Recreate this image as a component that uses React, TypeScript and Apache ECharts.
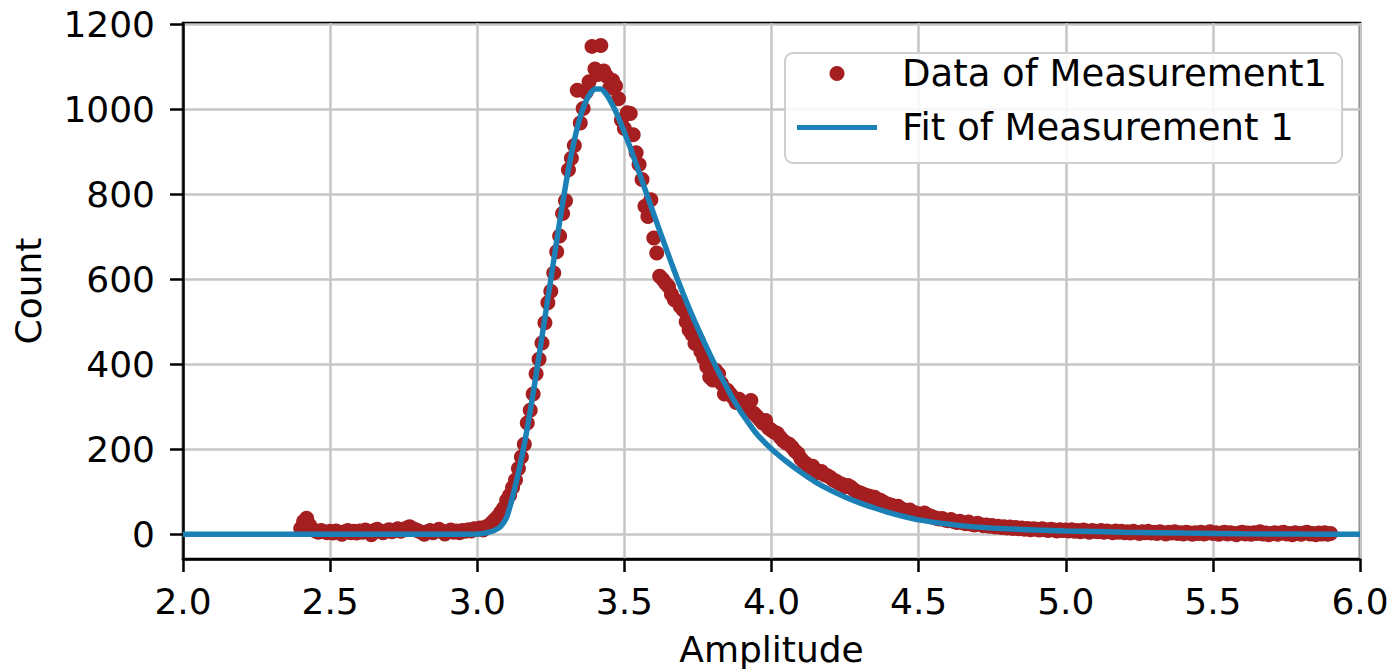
import React, { useEffect, useRef } from "react";
import * as echarts from "echarts";

const FONT = "DejaVu Sans";

// histogram bins: first bin centre and bin width
const binStart = 2.4;
const binWidth = 0.01;

// measured counts, bin by bin (2.40 ... 5.90)
const countsBaseline = [
  14, 30, 38, 22, 12, 8, 5, 9, 6, 4,
  7, 3, 8, 5, 0, 6, 9, 4, 7, 3,
  8, 5, 10, 6, -1, 9, 12, 7, 4, 8,
  11, 6, 9, 13, 7, 10, 15, 18, 14, 11,
  8, 5, 0, 6, 9, 4, 7, 12, 8, 1,
  6, 10, 5, 8, 4, 9, 7, 11, 8, 13,
];
const countsRise = [
  12, 15, 10, 18, 20, 28, 35, 42, 52, 62,
  80, 92, 110, 128, 155, 182, 212, 262, 292, 330,
  378, 412, 450, 498, 545, 572, 615, 665, 702, 755,
  785, 858, 885, 915, 1045, 968, 1002, 1040, 1065, 1148,
  1095, 1082, 1150, 1090, 1078, 1050, 1068, 1055, 1025, 975,
];
const countsFall = [
  955, 992, 990, 940, 898, 870, 835, 772, 748, 787,
  697, 662, 607, 600, 591, 583, 565, 552, 548, 536,
  528, 500, 481, 470, 449, 457, 430, 415, 395, 370,
  363, 386, 378, 355, 330, 339, 330, 322, 310, 318,
  305, 295, 300, 315, 285, 278, 270, 262, 268, 250,
];
const countsTail = [
  245, 240, 237, 228, 220, 215, 212, 205, 196, 190,
  178, 170, 165, 158, 160, 150, 145, 148, 140, 138,
  134, 128, 125, 120, 118, 112, 115, 111, 105, 100,
  98, 95, 92, 90, 88, 87, 82, 80, 76, 72,
  70, 68, 65, 66, 60, 58, 55, 57, 52, 50,
  48, 46, 50, 45, 43, 40, 38, 36, 37, 34,
];
const countsLate = [
  32, 35, 30, 28, 31, 27, 25, 29, 24, 22,
  26, 23, 20, 22, 19, 21, 17, 19, 16, 18,
  15, 17, 14, 16, 13, 15, 12, 14, 11, 13,
  12, 10, 13, 11, 9, 12, 10, 8, 11, 9,
];
const countsFar = [
  10, 8, 11, 7, 9, 6, 10, 8, 5, 9,
  7, 6, 9, 5, 8, 6, 4, 8, 5, 7,
  4, 6, 3, 7, 5, 2, 6, 4, 7, 3,
  5, 2, 6, 4, 1, 5, 3, 6, 2, 4,
  1, 5, 3, 0, 4, 2, 5, 1, 3, 6,
  2, 4, 0, 3, 5, 1, 4, 2, -1, 3,
  5, 1, 3, 0, 4, 2, 6, 1, 3, -1,
  2, 4, 0, 3, 5, 1, 2, -1, 4, 2,
  0, 3, 5, 1, 2, -1, 3, 1, 4, 0,
  2,
];

// fitted curve
const fitAmplitude = [
  2.0, 2.5, 2.9, 3.0, 3.02, 3.04, 3.06, 3.08, 3.1, 3.12, 3.14, 3.16, 3.18,
  3.2, 3.22, 3.24, 3.26, 3.28, 3.3, 3.32, 3.34, 3.36, 3.38, 3.4, 3.42,
  3.44, 3.46, 3.48, 3.5, 3.52, 3.54, 3.56, 3.58, 3.6, 3.62, 3.64, 3.66,
  3.68, 3.7, 3.72, 3.74, 3.76, 3.78, 3.8, 3.82, 3.84, 3.86, 3.88, 3.9,
  3.95, 4.0, 4.05, 4.1, 4.15, 4.2, 4.25, 4.3, 4.35, 4.4, 4.45, 4.5,
  4.6, 4.7, 4.8, 4.9, 5.0, 5.2, 5.4, 5.6, 5.8, 6.0,
];
const fitCount = [
  0, 0, 0, 1, 2, 5, 10, 19, 40, 88, 146, 212, 290,
  375, 465, 555, 645, 735, 820, 895, 957, 1003, 1033, 1048, 1048,
  1034, 1010, 980, 946, 910, 871, 832, 792, 753, 714, 676, 638,
  601, 566, 532, 500, 469, 439, 410, 382, 356, 330, 306, 284,
  236, 201, 172, 146, 123, 104, 88, 74, 62, 51, 42, 34,
  24, 17, 13, 10, 8, 5, 3, 1.5, 0.7, 0.3,
];

const xTicks = { min: 2, max: 6, step: 0.5 };
const yRange = { min: -58, max: 1203, step: 200 };
const yTickValues = [0, 200, 400, 600, 800, 1000, 1200];

const seriesNames = ["Data of Measurement1", "Fit of Measurement 1"];

export default function App() {
  const ref = useRef<HTMLDivElement>(null);

  useEffect(() => {
    if (!ref.current) return;
    const chart = echarts.init(ref.current, null, { renderer: "svg" });

    const allCounts = [
      ...countsBaseline,
      ...countsRise,
      ...countsFall,
      ...countsTail,
      ...countsLate,
      ...countsFar,
    ];
    const scatterData = allCounts.map((c, i) => [
      Number((binStart + i * binWidth).toFixed(2)),
      c,
    ]);
    const fitData = fitAmplitude.map((x, i) => [x, fitCount[i]]);

    const black = "#000000";
    const gridColor = "#c6c6c6";
    const fitColor = "#1a80b6";

    chart.setOption({
      animation: false,
      backgroundColor: "#ffffff",
      textStyle: { fontFamily: FONT },
      grid: {
        left: 183,
        top: 23,
        width: 1177,
        height: 536,
        show: true,
        borderColor: black,
        borderWidth: 2.5,
        containLabel: false,
        outerBoundsMode: "none",
      },
      xAxis: {
        type: "value",
        min: xTicks.min,
        max: xTicks.max,
        interval: xTicks.step,
        name: "Amplitude",
        nameLocation: "middle",
        nameGap: 72,
        nameTextStyle: { fontSize: 36, color: black, fontFamily: FONT },
        axisLine: { show: true, onZero: false, lineStyle: { color: black, width: 2.5 } },
        axisTick: { show: true, inside: false, length: 13, lineStyle: { color: black, width: 2.5 } },
        axisLabel: {
          fontSize: 36,
          color: black,
          fontFamily: FONT,
          margin: 24,
          formatter: (v: number) => v.toFixed(1),
        },
        splitLine: { show: true, lineStyle: { color: gridColor, width: 2.5 } },
      },
      yAxis: {
        type: "value",
        min: yRange.min,
        max: yRange.max,
        minInterval: yRange.step,
        maxInterval: yRange.step,
        name: "Count",
        nameLocation: "middle",
        nameGap: 137,
        nameRotate: 90,
        nameTextStyle: { fontSize: 36, color: black, fontFamily: FONT },
        axisLine: { show: true, onZero: false, lineStyle: { color: black, width: 2.5 } },
        axisTick: {
          show: true,
          inside: false,
          length: 13,
          customValues: yTickValues,
          lineStyle: { color: black, width: 2.5 },
        },
        axisLabel: {
          fontSize: 36,
          color: black,
          fontFamily: FONT,
          margin: 28,
          customValues: yTickValues,
          formatter: (v: number) => (Math.abs(v % yRange.step) < 1e-6 ? String(v) : ""),
        },
        splitLine: { show: true, lineStyle: { color: gridColor, width: 2.5 } },
      },
      legend: {
        left: 785,
        top: 53,
        orient: "vertical",
        backgroundColor: "rgba(255,255,255,0.85)",
        borderColor: "#cfcfcf",
        borderWidth: 2,
        borderRadius: 8,
        padding: [2, 15, 17, 12],
        itemWidth: 80,
        itemHeight: 15,
        itemGap: 17,
        symbolKeepAspect: true,
        textStyle: { fontSize: 37, color: black, fontFamily: FONT, padding: [0, 0, 0, 20] },
        data: [
          { name: seriesNames[0], icon: "circle" },
          {
            name: seriesNames[1],
            icon: "path://M0,0 L80,0 L80,5 L0,5 Z",
            itemStyle: { color: fitColor },
          },
        ],
      },
      series: [
        {
          name: seriesNames[0],
          type: "scatter",
          data: scatterData,
          symbol: "circle",
          symbolSize: 15,
          itemStyle: { color: "#a51f21", opacity: 1 },
          z: 2,
        },
        {
          name: seriesNames[1],
          type: "line",
          data: fitData,
          symbol: "none",
          showSymbol: false,
          smooth: 0.2,
          lineStyle: { color: fitColor, width: 5.5 },
          itemStyle: { color: fitColor },
          z: 3,
        },
      ],
    });

    return () => chart.dispose();
  }, []);

  return (
    <div
      ref={ref}
      style={{ position: "absolute", left: 0, top: 0, width: 1393, height: 670, background: "#fff" }}
    />
  );
}
